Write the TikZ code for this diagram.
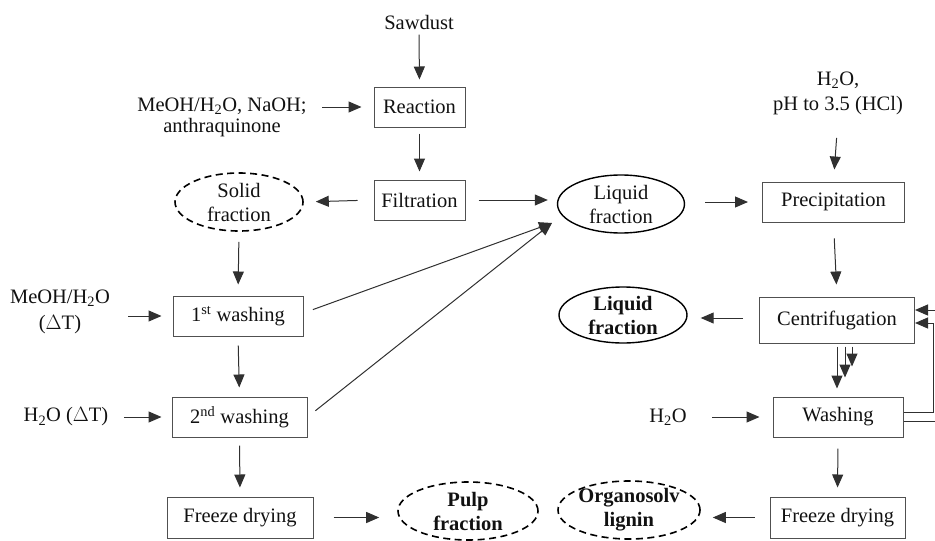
\documentclass[tikz,border=0pt]{standalone}
\usepackage{fontspec}
\setmainfont{Liberation Serif}
\usetikzlibrary{arrows.meta,shapes.geometric,calc}
\definecolor{txt}{HTML}{111111}
\definecolor{boxc}{HTML}{505050}
\definecolor{linec}{HTML}{303030}
\begin{document}
\begin{tikzpicture}[x=1pt,y=-1pt,
  every node/.style={font=\fontsize{20.5}{24}\selectfont, text=txt},
  box/.style={draw=boxc, line width=1pt, minimum width=#1, minimum height=40, inner sep=0},
  ell/.style={draw=black, ellipse, line width=1.4pt, minimum width=#1, minimum height=58, inner sep=0},
  dsh/.style={dash pattern=on 7pt off 4.5pt, line width=1.6pt},
  arr/.style={-{Triangle[length=13pt,width=11pt]}, line width=1pt, draw=linec},
  ln/.style={line width=1pt, draw=linec}]
\useasboundingbox (0,0) rectangle (935,541);

% left column
\node (saw) at (419,22) {Sawdust};
\node[box=91] (react) at (419.5,107) {Reaction};
\node[box=91] (filt) at (419.5,200) {Filtration};
\node[align=center, font=\fontsize{20.5}{21}\selectfont] (meoh) at (222,117) {MeOH/H\textsubscript{2}O, NaOH;\\anthraquinone};
\node[ell=128, dsh] (solid) at (239,202) {};
\node[align=center] (solidt) at (solid) {Solid\\fraction};
\node[box=130] (w1) at (238,316) {1\textsuperscript{st} washing};
\node[box=135] (w2) at (239.5,417) {2\textsuperscript{nd} washing};
\node[box=146, minimum height=41] (fdL) at (240,517.5) {Freeze drying};
\node[align=center, font=\fontsize{20.5}{26}\selectfont] (meoh2) at (60,312) {MeOH/H\textsubscript{2}O\\($\Delta$T)};
\node (h2o3) at (66,417) {H\textsubscript{2}O ($\Delta$T)};
\node[ell=140, dsh] (pulp) at (468,511) {};
\node[align=center, font=\fontsize{20.5}{24}\bfseries] (pulpt) at (pulp) {Pulp\\fraction};

% right column
\node[ell=127] (liq1) at (621,204) {};
\node[align=center] (liq1t) at (liq1) {Liquid\\fraction};
\node[box=142] (prec) at (833.5,202) {Precipitation};
\node[align=center, font=\fontsize{20.5}{25}\selectfont] (h2o1) at (838,93) {H\textsubscript{2}O,\\pH to 3.5 (HCl)};
\node[box=155, minimum height=46] (cent) at (837,320) {Centrifugation};
\node[ell=128, minimum height=56] (liq2) at (623,315) {};
\node[align=center, font=\fontsize{20.5}{24}\bfseries] (liq2t) at (liq2) {Liquid\\fraction};
\node[box=130] (wash) at (838,417) {Washing};
\node (h2o2) at (668,417) {H\textsubscript{2}O};
\node[box=135, minimum height=41] (fdR) at (837.5,517.5) {Freeze drying};
\node[ell=142, dsh] (org) at (629,510) {};
\node[align=center, font=\fontsize{20.5}{24}\bfseries] (orgt) at (org) {Organosolv\\lignin};

\coordinate (tip) at (552,223);

% connectors
\draw[arr, shorten <=2, shorten >=7] (saw.south) -- (react.north);
\draw[arr, shorten <=12, shorten >=12] (meoh.east |- react.west) -- (react.west);
\draw[arr, shorten <=6, shorten >=8] (react.south) -- (filt.north);
\draw[arr, shorten <=16, shorten >=12] (filt.west) -- (solid.east);
\draw[arr, shorten <=13, shorten >=9] (filt.east) -- (liq1.west |- filt.east);
\draw[arr, shorten <=20, shorten >=14] (liq1.east |- prec.west) -- (prec.west);
\draw[arr, shorten <=20, shorten >=12] (h2o1.south) -- (prec.north);
\draw[arr, shorten <=16, shorten >=12] (prec.south) -- (cent.north);
\draw[arr, shorten <=16, shorten >=13] ($(cent.west)+(0,-2)$) -- ($(liq2.east)+(0,3)$);
\draw[arr] ($(cent.south)+(0,3)$) -- ($(cent.south)+(0,45)$);
\draw[arr] ($(cent.south)+(8,3)$) -- ($(cent.south)+(8,34)$);
\draw[arr] ($(cent.south)+(15,3)$) -- ($(cent.south)+(15,23)$);
\draw[arr, shorten <=22, shorten >=13] (h2o2.east) -- (wash.west);
\draw[arr, shorten <=11, shorten >=9] (wash.south) -- (fdR.north);
\draw[arr, shorten <=15, shorten >=12] (fdR.west) -- (org.east |- fdR.west);
\draw[arr, shorten <=20, shorten >=18] (fdL.east) -- (pulp.west |- fdL.east);
\draw[arr, shorten <=8, shorten >=9] (w2.south) -- (fdL.north);
\draw[arr, shorten <=10, shorten >=11] (solid.south) -- (w1.north);
\draw[arr, shorten <=9, shorten >=9] (w1.south) -- (w2.north);
\draw[arr, shorten <=15, shorten >=11] (meoh2.east |- w1.west) -- (w1.west);
\draw[arr, shorten <=12, shorten >=10] (h2o3.east) -- (w2.west);
\draw[arr, shorten <=10] ($(w1.east)+(0,-3)$) -- (tip);
\draw[arr, shorten <=10] (w2.east) -- (tip);
% recycle lines at the right edge
\draw[arr] ($(cent.east)+(21,-10)$) -- ($(cent.east)+(0,-10)$);
\draw[arr] ($(wash.east)+(0,-5)$) -| ($(cent.east)+(18,3)$) -- ($(cent.east)+(0,3)$);
\draw[ln] ($(wash.east)+(0,4)$) -- ($(wash.east)+(33,4)$);
\end{tikzpicture}
\end{document}
